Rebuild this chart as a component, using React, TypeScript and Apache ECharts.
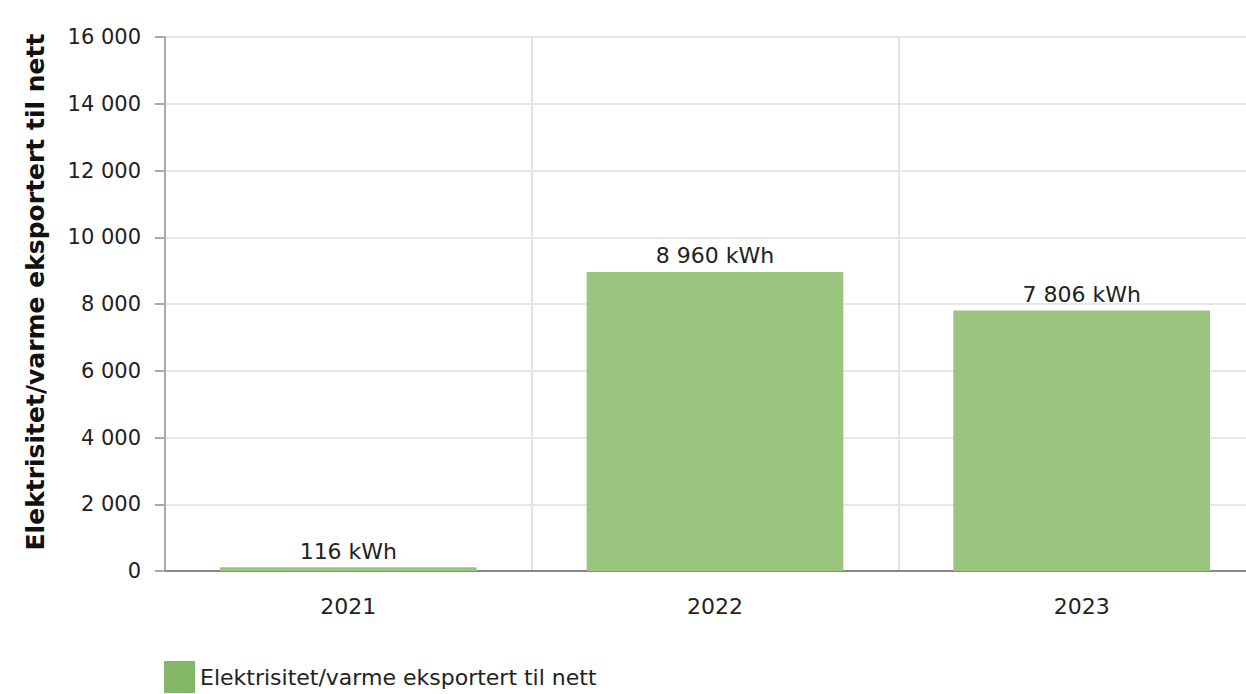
import React, { useEffect, useRef } from "react";
import * as echarts from "echarts";

const categories = ["2021", "2022", "2023"];
const values = [116, 8960, 7806];
const seriesName = "Elektrisitet/varme eksportert til nett";
const yAxisName = "Elektrisitet/varme eksportert til nett";

const fmt = (v: number) => String(Math.round(v)).replace(/\B(?=(\d{3})+(?!\d))/g, " ");

export default function App() {
  const ref = useRef<HTMLDivElement>(null);
  useEffect(() => {
    if (!ref.current) return;
    const chart = echarts.init(ref.current, null, { renderer: "svg" });
    const font = "Verdana, 'DejaVu Sans', sans-serif";
    chart.setOption({
      animation: false,
      textStyle: { fontFamily: font },
      grid: {
        left: 165,
        top: 37,
        width: 1100,
        height: 534,
        containLabel: false,
        outerBoundsMode: "none",
      },
      legend: {
        left: 159,
        top: 656,
        itemWidth: 31,
        itemHeight: 32,
        itemGap: 10,
        icon: "rect",
        textStyle: { fontSize: 22, color: "#222", fontFamily: font, padding: [0, 0, 0, 0] },
        data: [{ name: seriesName, itemStyle: { color: "#85b866", opacity: 1 } }],
      },
      xAxis: {
        type: "category",
        data: categories,
        boundaryGap: true,
        axisLine: { lineStyle: { color: "#888", width: 2 } },
        axisTick: { alignWithLabel: true, length: 10, lineStyle: { color: "#aaa", width: 2 } },
        axisLabel: { fontSize: 22, color: "#222", margin: 24 },
        splitLine: { show: true, lineStyle: { color: "#e3e3e3", width: 2 } },
      },
      yAxis: {
        type: "value",
        min: 0,
        max: 16000,
        interval: 2000,
        name: yAxisName,
        nameLocation: "middle",
        nameGap: 117,
        nameTextStyle: {
          fontSize: 25,
          fontWeight: "bold",
          color: "#111",
          fontFamily: font,
          padding: [0, 0, 0, 24],
        },
        axisLine: { show: true, lineStyle: { color: "#aaa", width: 2 } },
        axisTick: { show: true, length: 10, lineStyle: { color: "#aaa", width: 2 } },
        axisLabel: { fontSize: 21, color: "#222", margin: 24, formatter: (v: number) => fmt(v) },
        splitLine: { show: true, lineStyle: { color: "#e6e6e6", width: 2 } },
      },
      series: [
        {
          name: seriesName,
          type: "bar",
          data: values,
          barCategoryGap: "30%",
          itemStyle: { color: "#9bc57f" },
          label: {
            show: true,
            position: "top",
            distance: 5,
            fontSize: 22,
            color: "#222",
            fontFamily: font,
            formatter: (p: any) => fmt(p.value) + " kWh",
          },
        },
      ],
    });
    return () => chart.dispose();
  }, []);
  return (
    <div
      ref={ref}
      style={{ position: "fixed", left: 0, top: 0, width: 1246, height: 694, background: "#fff" }}
    />
  );
}
